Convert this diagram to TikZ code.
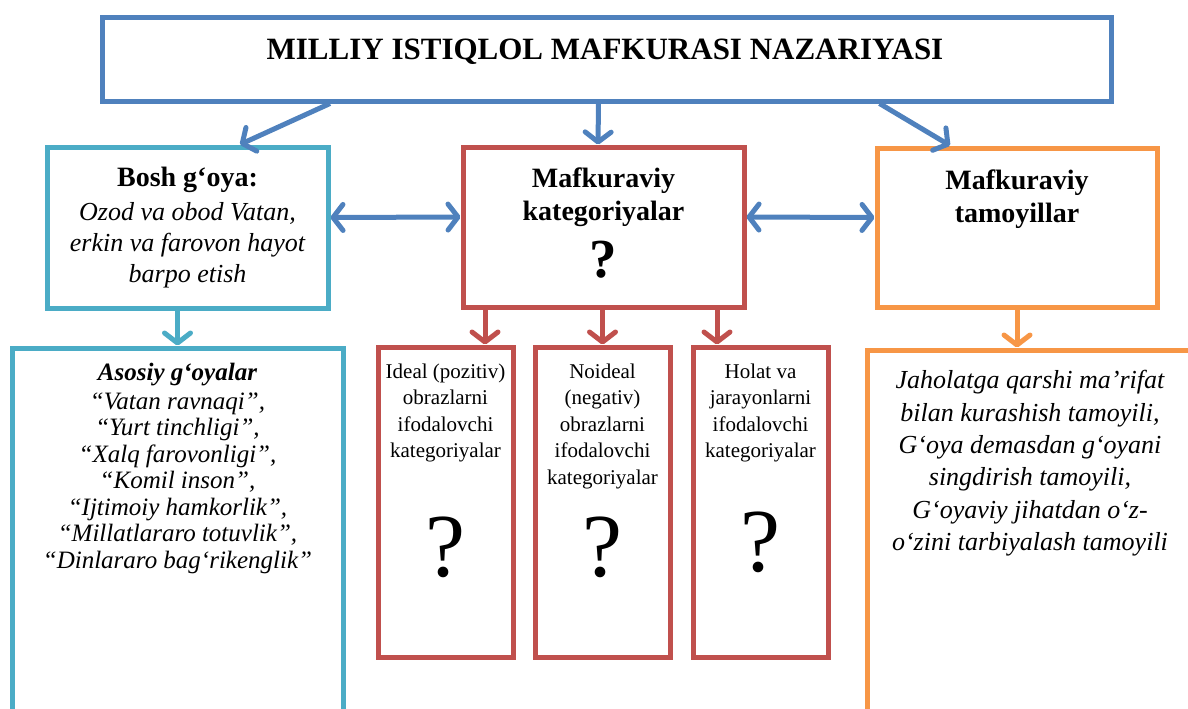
\documentclass[tikz,border=0pt]{standalone}
\usepackage{fontspec}
\setmainfont{Liberation Serif}
\usetikzlibrary{arrows.meta, positioning}

\definecolor{tblue}{HTML}{4F81BD}
\definecolor{tteal}{HTML}{4BACC6}
\definecolor{tred}{HTML}{C0504D}
\definecolor{torange}{HTML}{F79646}

\newcommand{\fsz}[2]{\fontsize{#1}{#2}\selectfont}

\tikzset{
	box/.style = {draw, line width = 5pt, inner sep = 0pt, fill = white},
	arr/.style = {line width = 5pt, -{Straight Barb[length = 10pt, width = 26pt, round]}},
	darr/.style = {line width = 5pt, {Straight Barb[length = 10pt, width = 26pt, round]}-{Straight Barb[length = 10pt, width = 26pt, round]}},
}

\begin{document}
\begin{tikzpicture}[x = 1pt, y = -1pt]
	\useasboundingbox (0,0) rectangle (1188,709);
	\node[box, draw = tblue, minimum width = 1009pt, minimum height = 83pt] (nazariya) at (606.5,59.5) {};
	\node[font = \fsz{31}{31}\bfseries] (nazariyatxt) at (605,52) {MILLIY ISTIQLOL MAFKURASI NAZARIYASI};

	\node[box, draw = tteal, minimum width = 281pt, minimum height = 161pt, align = center, font = \fsz{26}{31}\itshape] (goya) at (187.5,227.5) {{\fsz{28}{30}\bfseries\upshape Bosh g‘oya:}\\[3pt] Ozod va obod Vatan,\\ erkin va farovon hayot\\ barpo etish};
	\node[box, draw = tred, minimum width = 281pt, minimum height = 160pt] (kat) at (603.5,227) {};
	\node[anchor = north, align = center, font = \fsz{28}{33}\bfseries] (kattxt) at (603.5,164) {Mafkuraviy\\ kategoriyalar\\[14pt] {\fsz{55}{50}?}};
	\node[box, draw = torange, minimum width = 280pt, minimum height = 159pt] (tam) at (1017,227.5) {};
	\node[anchor = north, align = center, font = \fsz{28}{33}\bfseries] (tamtxt) at (1017,166) {Mafkuraviy\\ tamoyillar};

	\node[box, draw = tteal, minimum width = 331pt, minimum height = 420pt] (asos) at (177.5,558) {};
	\node[anchor = north, align = center, font = \fsz{25}{26.5}\itshape] (asostxt) at (177.5,360) {{\bfseries Asosiy g‘oyalar}\\[2pt] “Vatan ravnaqi”,\\ “Yurt tinchligi”,\\ “Xalq farovonligi”,\\ “Komil inson”,\\ “Ijtimoiy hamkorlik”,\\ “Millatlararo totuvlik”,\\ “Dinlararo bag‘rikenglik”};

	\node[box, draw = tred, minimum width = 135pt, minimum height = 310pt] (ideal) at (445.5,502) {};
	\node[box, draw = tred, minimum width = 135pt, minimum height = 310pt] (noideal) at (602.5,502) {};
	\node[box, draw = tred, minimum width = 135pt, minimum height = 310pt] (holat) at (760.5,502) {};
	\node[anchor = north, align = center, font = \fsz{21}{26.5}] (idealtxt) at (445.5,360) {Ideal (pozitiv)\\ obrazlarni\\ ifodalovchi\\ kategoriyalar};
	\node[anchor = north, align = center, font = \fsz{21}{26.5}] (noidealtxt) at (602.5,360) {Noideal\\ (negativ)\\ obrazlarni\\ ifodalovchi\\ kategoriyalar};
	\node[anchor = north, align = center, font = \fsz{21}{26.5}] (holattxt) at (760.5,360) {Holat va\\ jarayonlarni\\ ifodalovchi\\ kategoriyalar};
	\node[font = \fsz{90}{90}] (idealq) at (445.5,547) {?};
	\node[font = \fsz{90}{90}] (noidealq) at (602.5,547) {?};
	\node[font = \fsz{90}{90}] (holatq) at (760.5,542) {?};

	\node[box, draw = torange, minimum width = 330pt, minimum height = 420pt] (tamoy) at (1032,560) {};
	\node[anchor = north, align = center, font = \fsz{26}{32.3}\itshape] (tamoytxt) at (1030,367) {Jaholatga qarshi ma’rifat\\ bilan kurashish tamoyili,\\ G‘oya demasdan g‘oyani\\ singdirish tamoyili,\\ G‘oyaviy jihatdan o‘z-\\ o‘zini tarbiyalash tamoyili};

	\draw[arr, tblue] ([xshift = -276.5pt]nazariya.south) -- ([xshift = 52.5pt]goya.north);
	\draw[arr, tblue] ([xshift = -8pt]nazariya.south) -- ([xshift = -5.5pt]kat.north);
	\draw[arr, tblue] ([xshift = 273pt]nazariya.south) -- ([xshift = -67pt]tam.north);
	\draw[darr, tblue] ([yshift = 10pt]goya.east) -- ([yshift = 10pt]kat.west);
	\draw[darr, tblue] ([yshift = 10pt]kat.east) -- ([yshift = 10pt]tam.west);
	\draw[arr, tteal] (goya.south -| asos.north) -- (asos.north);
	\draw[arr, tred] ([xshift = -118.5pt]kat.south) -- ([xshift = 39.5pt]ideal.north);
	\draw[arr, tred] (kat.south -| noideal.north) -- (noideal.north);
	\draw[arr, tred] ([xshift = 113.5pt]kat.south) -- ([xshift = -43.5pt]holat.north);
	\draw[arr, torange] (tam.south) -- (tamoy.north -| tam.south);
\end{tikzpicture}
\end{document}
